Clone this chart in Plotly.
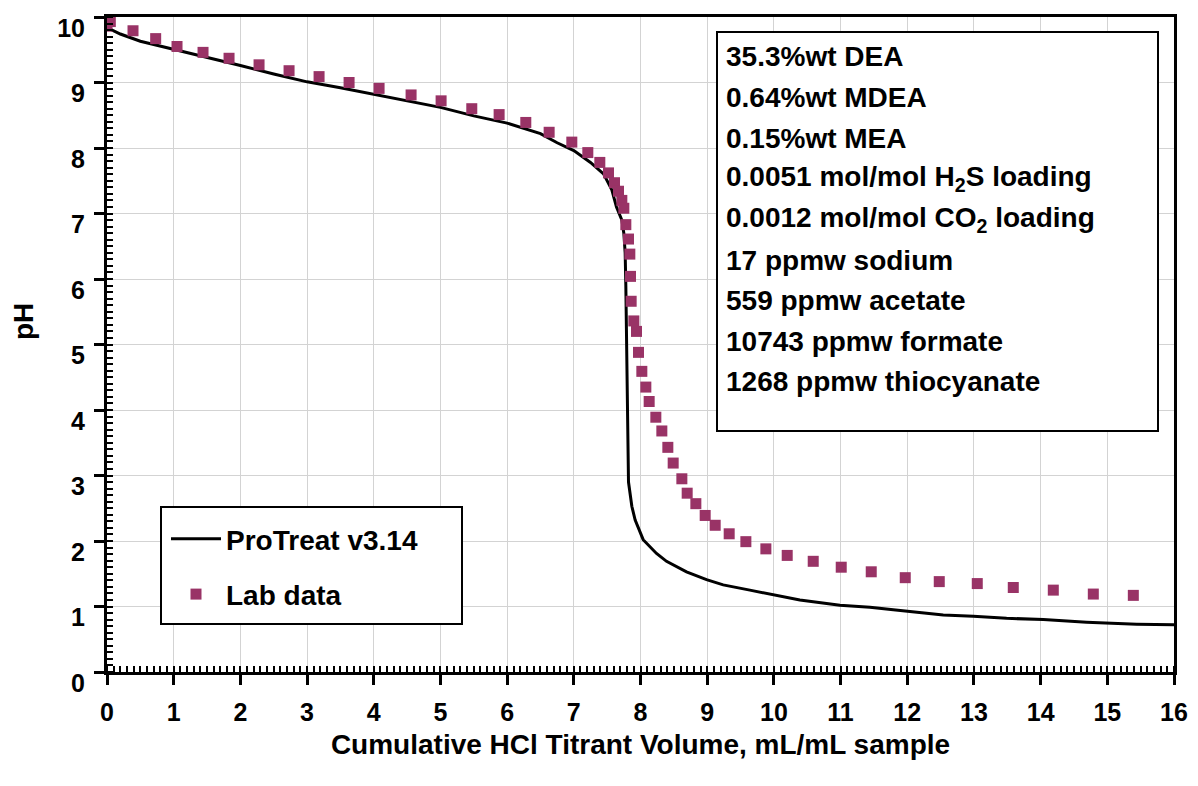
import plotly.graph_objects as go

# ProTreat model curve
model_x = [0.0, 0.2, 0.5, 1.0, 1.5, 2.0, 2.5, 3.0, 3.5, 4.0, 4.5, 5.0, 5.5, 6.0, 6.5, 6.75,
           7.0, 7.25, 7.45, 7.57, 7.64, 7.72, 7.75, 7.77, 7.78, 7.79, 7.80, 7.82, 7.87,
           7.92, 8.04, 8.24, 8.39, 8.69, 8.99, 9.24, 9.64, 9.99, 10.39, 10.99, 11.44,
           11.79, 12.14, 12.54, 12.99, 13.49, 14.04, 14.69, 15.44, 16.0]
model_ph = [9.84, 9.74, 9.63, 9.51, 9.38, 9.26, 9.13, 9.01, 8.92, 8.82, 8.72, 8.62, 8.49, 8.38, 8.22, 8.08,
            7.96, 7.78, 7.60, 7.36, 7.10, 6.90, 6.70, 6.40, 5.90, 4.90, 4.00, 2.90, 2.53,
            2.32, 2.02, 1.81, 1.69, 1.53, 1.41, 1.33, 1.25, 1.18, 1.10, 1.02, 0.99,
            0.95, 0.91, 0.87, 0.85, 0.82, 0.80, 0.76, 0.73, 0.72]

# Lab titration data
lab_x = [0.0, 0.05, 0.39, 0.73, 1.05, 1.44, 1.83, 2.28, 2.73, 3.18, 3.63, 4.08, 4.56, 5.01,
         5.47, 5.88, 6.28, 6.63, 6.97, 7.21, 7.39, 7.52, 7.61, 7.67, 7.72, 7.75, 7.78, 7.82,
         7.84, 7.85, 7.86, 7.90, 7.94, 7.97, 8.02, 8.08, 8.13, 8.23, 8.32, 8.41, 8.49, 8.62,
         8.70, 8.83, 8.97, 9.12, 9.33, 9.58, 9.88, 10.20, 10.59, 11.01, 11.46, 11.97, 12.48,
         13.05, 13.59, 14.19, 14.79, 15.39]
lab_ph = [9.86, 9.93, 9.79, 9.67, 9.55, 9.46, 9.37, 9.27, 9.18, 9.09, 9.00, 8.91, 8.81, 8.72,
          8.60, 8.51, 8.39, 8.24, 8.09, 7.93, 7.78, 7.62, 7.47, 7.34, 7.20, 7.08, 6.83, 6.61,
          6.38, 6.04, 5.66, 5.36, 5.20, 4.88, 4.59, 4.35, 4.13, 3.89, 3.68, 3.43, 3.19, 2.95,
          2.73, 2.57, 2.39, 2.24, 2.11, 1.99, 1.88, 1.78, 1.69, 1.60, 1.53, 1.44, 1.38,
          1.35, 1.29, 1.25, 1.19, 1.17]

# y tick values and labels
y_ticks = [0, 1, 2, 3, 4, 5, 6, 7, 8, 9, 10]
y_tick_text = ["0", "1", "2", "3", "4", "5", "6", "7", "8", "9", "10"]

info_lines = [
    "35.3%wt DEA",
    "0.64%wt MDEA",
    "0.15%wt MEA",
    "0.0051 mol/mol H<sub>2</sub>S loading",
    "0.0012 mol/mol CO<sub>2</sub> loading",
    "17 ppmw sodium",
    "559 ppmw acetate",
    "10743 ppmw formate",
    "1268 ppmw thiocyanate",
]

FONT = "Liberation Sans, Arial, sans-serif"
OFF = 8          # page body margin
DROP = 11        # y tick labels sit this many px below their ticks in the original
W, H = 1198 - OFF, 786 - OFF
# plot area in page pixels: x 107..1174, y 17..672
PL, PR, PT, PB = 107, 1174, 17, 672
PBX = PB + DROP  # bottom of the paper region (includes the label drop)
L, T = PL - OFF, PT - OFF
R, B = W - (PR - OFF), H - (PBX - OFF)
pw, ph = PR - PL, PBX - PT
dfrac = DROP / ph


def px(xp):
    return (xp - PL) / pw


def py(yp):
    return (PBX - yp) / ph


fig = go.Figure()
fig.add_trace(go.Scatter(
    x=model_x, y=model_ph, mode="lines", name="ProTreat v3.14",
    line=dict(color="black", width=3), legendgroup="a"))
fig.add_trace(go.Scatter(
    x=lab_x, y=lab_ph, mode="markers", name="Lab data",
    marker=dict(symbol="square", size=11, color="#993366"), legendgroup="b"))
# empty helper trace so the label axis is drawn
fig.add_trace(go.Scatter(x=[None], y=[None], xaxis="x2", yaxis="y2", showlegend=False,
                         hoverinfo="skip", mode="markers"))

tickfont = dict(family=FONT, size=25, color="black", weight="bold")
axis_common = dict(
    showline=True, linewidth=3, linecolor="black", mirror=True,
    ticks="outside", ticklen=10, tickwidth=3, tickcolor="black",
    showgrid=True, gridcolor="#d3d3d3", gridwidth=1, zeroline=False,
    tickfont=tickfont, ticklabeloverflow="allow",
    minor=dict(ticks="inside", dtick=0.1, ticklen=6, tickwidth=2,
               tickcolor="black", showgrid=False),
)

fig.update_layout(
    xaxis=dict(range=[0, 16], dtick=1, tick0=0, ticklabelstandoff=6, anchor="y",
               title=dict(text="Cumulative HCl Titrant Volume, mL/mL sample",
                          font=dict(family=FONT, size=28, color="black", weight="bold"),
                          standoff=10),
               **axis_common),
    yaxis=dict(range=[0, 10], tickvals=y_ticks, showticklabels=False,
               domain=[dfrac, 1], anchor="x", **axis_common),
    xaxis2=dict(range=[0, 16], anchor="y2", visible=False, showgrid=False),
    yaxis2=dict(range=[0, 10], domain=[0, 1 - dfrac], anchor="x2", side="left",
                tickvals=y_ticks, ticktext=y_tick_text,
                ticks="outside", ticklen=10, tickcolor="rgba(0,0,0,0)",
                ticklabelstandoff=6, showline=False, showgrid=False, zeroline=False,
                tickfont=tickfont, ticklabeloverflow="allow"),
)

# y-axis title
fig.add_annotation(xref="paper", yref="paper", x=(24 - PL) / pw, y=py(322),
                   xanchor="center", yanchor="middle", textangle=-90, showarrow=False,
                   text="pH", font=dict(family=FONT, size=28, color="black", weight="bold"))

# legend frame
fig.add_shape(type="rect", xref="paper", yref="paper",
              x0=px(161), x1=px(462), y0=py(624), y1=py(507),
              line=dict(color="black", width=2), fillcolor="white", layer="above")

# info box
fig.add_shape(type="rect", xref="paper", yref="paper",
              x0=px(717), x1=px(1158), y0=py(431), y1=py(32),
              line=dict(color="black", width=2), fillcolor="white", layer="above")
for i, t in enumerate(info_lines):
    fig.add_annotation(xref="paper", yref="paper", x=px(724), y=py(57 + i * 40.6),
                       xanchor="left", yanchor="middle", showarrow=False, text=t,
                       font=dict(family=FONT, size=28, color="black", weight="bold"))

fig.update_layout(
    width=W, height=H,
    margin=dict(l=L, r=R, t=T, b=B, autoexpand=False),
    plot_bgcolor="rgba(0,0,0,0)", paper_bgcolor="white",
    showlegend=True,
    legend=dict(x=px(166), y=py(514), xanchor="left", yanchor="top",
                bgcolor="rgba(0,0,0,0)", borderwidth=0,
                font=dict(family=FONT, size=28, color="black", weight="bold"),
                tracegroupgap=16, itemwidth=50),
)

fig.write_html("out.html")
